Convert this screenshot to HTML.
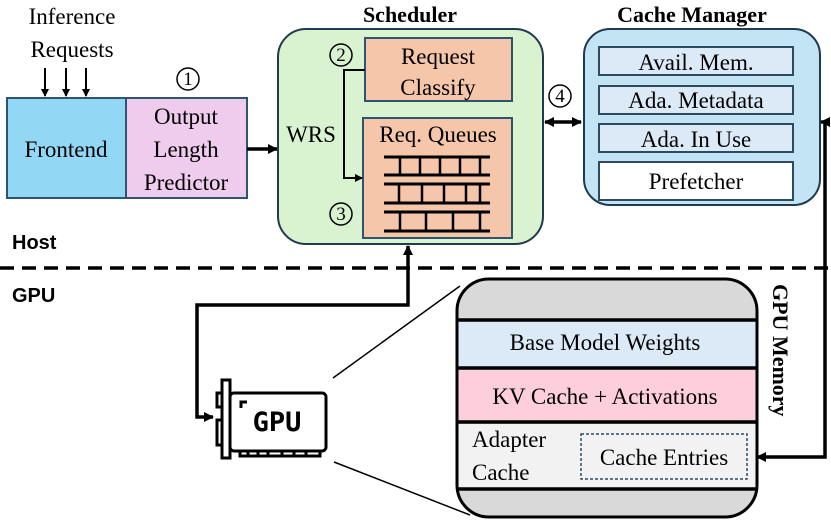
<!DOCTYPE html>
<html><head><style>
body{margin:0;background:#fff;width:831px;height:524px;position:relative;overflow:hidden}
svg{display:block;position:absolute;left:0;top:0}
.t{position:absolute;font-family:"Liberation Serif","DejaVu Serif",serif;font-size:23px;line-height:23px;color:#000;white-space:nowrap;width:300px;text-align:center}
.l{text-align:left;width:auto}
.b{font-weight:bold;font-size:22px}
.s{font-family:"Liberation Sans","DejaVu Sans",sans-serif;font-weight:bold;font-size:20px;text-align:left;width:auto}
.c{font-size:19px}
</style></head><body>
<svg width="831" height="524" viewBox="0 0 831 524" xmlns="http://www.w3.org/2000/svg">
<defs>
<marker id="a" markerWidth="8" markerHeight="8" refX="7" refY="4" orient="auto" markerUnits="userSpaceOnUse"><path d="M0,0 L8,4 L0,8 z" fill="#000"/></marker>
<marker id="s" markerWidth="10" markerHeight="10" refX="9" refY="5" orient="auto-start-reverse" markerUnits="userSpaceOnUse"><path d="M0,0 L10,5 L0,10 z" fill="#000"/></marker>
<clipPath id="mc"><rect x="457" y="279" width="300" height="238" rx="32"/></clipPath>
</defs>
<g stroke="#000" stroke-width="2"><line x1="45" y1="68" x2="45" y2="96" marker-end="url(#a)"/><line x1="66" y1="68" x2="66" y2="96" marker-end="url(#a)"/><line x1="86" y1="68" x2="86" y2="96" marker-end="url(#a)"/></g>
<circle cx="188" cy="79" r="11" fill="none" stroke="#000" stroke-width="1.5"/>
<rect x="7" y="98" width="119" height="100" fill="#92d8f5" stroke="#2e5570" stroke-width="2"/>
<rect x="126" y="98" width="121" height="100" fill="#efcbee" stroke="#2e5570" stroke-width="2"/>
<line x1="247" y1="149" x2="277" y2="149" stroke="#000" stroke-width="3.5" marker-end="url(#s)"/>
<rect x="278" y="29" width="265" height="215" rx="28" fill="#d9f2d0" stroke="#1f3b4d" stroke-width="2"/>
<rect x="365" y="38" width="147" height="63" fill="#f5c6aa" stroke="#2e5570" stroke-width="2"/>
<rect x="363" y="118" width="149" height="120" fill="#f5c6aa" stroke="#2e5570" stroke-width="2"/>
<g stroke="#000" stroke-width="3">
<line x1="384" y1="157" x2="490" y2="157"/><line x1="384" y1="175" x2="490" y2="175"/>
<line x1="384" y1="184" x2="490" y2="184"/><line x1="384" y1="203" x2="490" y2="203"/>
<line x1="384" y1="212" x2="490" y2="212"/><line x1="384" y1="231" x2="490" y2="231"/>
</g>
<g stroke="#000" stroke-width="2.5">
<line x1="400" y1="157" x2="400" y2="175"/><line x1="420" y1="157" x2="420" y2="175"/><line x1="440" y1="157" x2="440" y2="175"/><line x1="460" y1="157" x2="460" y2="175"/><line x1="480" y1="157" x2="480" y2="175"/>
<line x1="399" y1="184" x2="399" y2="203"/><line x1="422" y1="184" x2="422" y2="203"/><line x1="444" y1="184" x2="444" y2="203"/><line x1="466" y1="184" x2="466" y2="203"/><line x1="480" y1="184" x2="480" y2="203"/>
<line x1="400" y1="212" x2="400" y2="231"/><line x1="426" y1="212" x2="426" y2="231"/><line x1="453" y1="212" x2="453" y2="231"/><line x1="480" y1="212" x2="480" y2="231"/>
</g>
<polyline points="365,70 344,70 344,178 362,178" fill="none" stroke="#000" stroke-width="2" marker-end="url(#a)"/>
<circle cx="341" cy="55" r="11" fill="none" stroke="#000" stroke-width="1.5"/>
<circle cx="341" cy="214" r="11" fill="none" stroke="#000" stroke-width="1.5"/>
<line x1="545" y1="122" x2="581" y2="122" stroke="#000" stroke-width="3.5" marker-start="url(#s)" marker-end="url(#s)"/>
<circle cx="560" cy="96" r="11" fill="none" stroke="#000" stroke-width="1.5"/>
<rect x="584" y="29" width="236" height="176" rx="26" fill="#c2e4f5" stroke="#1f3b4d" stroke-width="2"/>
<rect x="599" y="47" width="194" height="28" fill="#dce9f7" stroke="#2e4a60" stroke-width="2"/>
<rect x="599" y="86" width="194" height="28" fill="#dce9f7" stroke="#2e4a60" stroke-width="2"/>
<rect x="599" y="124" width="194" height="28" fill="#dce9f7" stroke="#2e4a60" stroke-width="2"/>
<rect x="599" y="162" width="194" height="38" fill="#fff" stroke="#2e4a60" stroke-width="2"/>
<polyline points="757,457 825,457 825,122 821,122" fill="none" stroke="#000" stroke-width="3.5" marker-start="url(#s)" marker-end="url(#s)"/>
<line x1="0" y1="268" x2="831" y2="268" stroke="#000" stroke-width="3.5" stroke-dasharray="14,8"/>
<polyline points="408,246 408,305 197,305 197,417 213,417" fill="none" stroke="#000" stroke-width="3.5" marker-start="url(#s)" marker-end="url(#s)"/>
<g fill="none" stroke="#000" stroke-width="3">
<path d="M222,380 h8 v78 h-8 z"/>
<path d="M222,393 h-5 v14 h5 M222,420 h-5 v25 h5"/>
<rect x="230" y="393" width="96" height="58" rx="4"/>
<path d="M240,450 v6 h80 v-6 M248,456 v-4 M258,456 v-4 M268,456 v-4 M282,456 v-4 M294,456 v-4 M306,456 v-4"/>
<path d="M241,408 v-6 h6"/>
</g>
<line x1="333" y1="378" x2="460" y2="286" stroke="#000" stroke-width="1.5"/>
<line x1="334" y1="462" x2="470" y2="515" stroke="#000" stroke-width="1.5"/>
<g clip-path="url(#mc)">
<rect x="457" y="279" width="300" height="238" fill="#d9d9d9"/>
<rect x="457" y="320" width="300" height="47" fill="#dce9f7"/>
<rect x="457" y="370" width="300" height="51" fill="#fdcedb"/>
<rect x="457" y="424" width="300" height="64" fill="#f2f2f2"/>
<g stroke="#000" stroke-width="3.5"><line x1="457" y1="320" x2="757" y2="320"/><line x1="457" y1="368" x2="757" y2="368"/><line x1="457" y1="422" x2="757" y2="422"/><line x1="457" y1="489" x2="757" y2="489"/></g>
</g>
<rect x="457" y="279" width="300" height="238" rx="32" fill="none" stroke="#000" stroke-width="3"/>
<rect x="581" y="434" width="166" height="45" fill="none" stroke="#2e4a60" stroke-width="1.5" stroke-dasharray="3,2"/>
</svg>
<div class="t" style="left:-78px;top:5px">Inference</div>
<div class="t" style="left:-78px;top:38px">Requests</div>
<div class="t c" style="left:38px;top:68px">1</div>
<div class="t" style="left:-84px;top:138px">Frontend</div>
<div class="t" style="left:36px;top:105px">Output</div>
<div class="t" style="left:36px;top:138px">Length</div>
<div class="t" style="left:36px;top:171px">Predictor</div>
<div class="t b" style="left:260px;top:3px">Scheduler</div>
<div class="t" style="left:288px;top:45px">Request</div>
<div class="t" style="left:288px;top:76px">Classify</div>
<div class="t" style="left:288px;top:123px">Req. Queues</div>
<div class="t" style="left:161px;top:123px">WRS</div>
<div class="t c" style="left:191px;top:44px">2</div>
<div class="t c" style="left:191px;top:203px">3</div>
<div class="t c" style="left:410px;top:85px">4</div>
<div class="t b" style="left:542px;top:3px">Cache Manager</div>
<div class="t" style="left:546px;top:51px">Avail. Mem.</div>
<div class="t" style="left:546px;top:89px">Ada. Metadata</div>
<div class="t" style="left:546px;top:128px">Ada. In Use</div>
<div class="t" style="left:546px;top:170px">Prefetcher</div>
<div class="t s" style="left:12px;top:232px">Host</div>
<div class="t s" style="left:12px;top:285px">GPU</div>
<div class="t" style="left:127px;top:409px;font-family:'DejaVu Sans Mono','Liberation Mono',monospace;font-size:27px;line-height:27px;font-weight:bold">GPU</div>
<div class="t" style="left:455px;top:331px">Base Model Weights</div>
<div class="t" style="left:455px;top:385px">KV Cache + Activations</div>
<div class="t l" style="left:472px;top:428px">Adapter</div>
<div class="t l" style="left:472px;top:461px">Cache</div>
<div class="t" style="left:514px;top:446px">Cache Entries</div>
<div class="t b l" style="left:759px;top:284px;transform-origin:0 0;transform:translate(33px,0) rotate(90deg)">GPU Memory</div>
</body></html>
